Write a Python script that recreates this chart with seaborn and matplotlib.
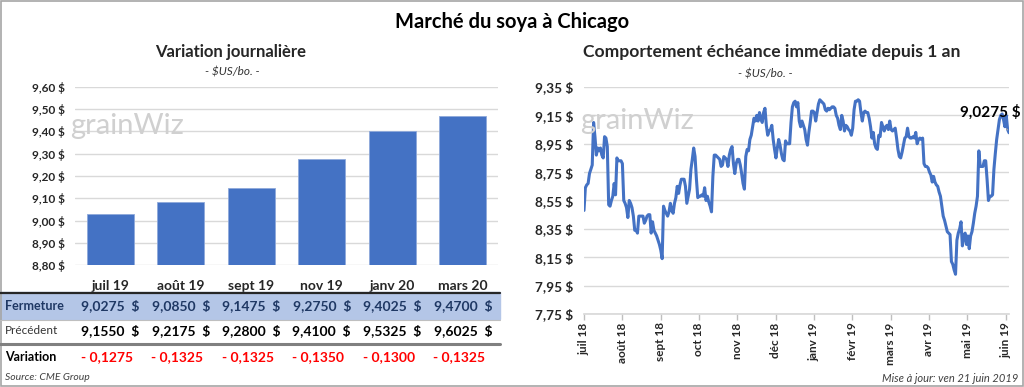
import numpy as np
import pandas as pd
import matplotlib
matplotlib.use("Agg")
import matplotlib.pyplot as plt
import seaborn as sns
from matplotlib.transforms import blended_transform_factory
from matplotlib.patches import Rectangle
from matplotlib.lines import Line2D

# ---------------- data ----------------
contracts = ["juil 19", "août 19", "sept 19", "nov 19", "janv 20", "mars 20"]
fermeture = [9.0275, 9.0850, 9.1475, 9.2750, 9.4025, 9.4700]
precedent = [9.1550, 9.2175, 9.2800, 9.4100, 9.5325, 9.6025]
variation = [-0.1275, -0.1325, -0.1325, -0.1350, -0.1300, -0.1325]

month_labels = ["juil 18", "août 18", "sept 18", "oct 18", "nov 18", "déc 18",
                "janv 19", "févr 19", "mars 19", "avr 19", "mai 19", "juin 19"]
nearby_prices = [
    8.48, 8.64, 8.66, 8.67, 8.74, 8.77, 8.80, 9.10, 9.00, 8.87, 8.92, 8.90, 8.92, 8.87, 8.85,
    9.00, 8.99, 8.93, 8.52, 8.51, 8.55, 8.58, 8.67, 8.59, 8.85, 8.83, 8.83, 8.83, 8.81, 8.55,
    8.53, 8.50, 8.43, 8.55, 8.53, 8.50, 8.44, 8.34, 8.34, 8.32, 8.44, 8.44, 8.44, 8.44, 8.39,
    8.41, 8.44, 8.45, 8.45, 8.32, 8.40, 8.34, 8.32, 8.30, 8.27, 8.24, 8.20, 8.14,
    8.51, 8.48, 8.46, 8.44, 8.47, 8.53, 8.48, 8.46, 8.53, 8.57, 8.65, 8.60, 8.66, 8.70, 8.70,
    8.70, 8.65, 8.53, 8.58, 8.63, 8.77, 8.84, 8.92, 8.86, 8.70, 8.57, 8.58, 8.58, 8.59, 8.58,
    8.64, 8.55, 8.58, 8.54, 8.51, 8.47,
    8.72, 8.87, 8.87, 8.86, 8.85, 8.84, 8.79, 8.80, 8.86, 8.85, 8.84, 8.79, 8.87, 8.91, 8.93,
    8.81, 8.74, 8.81, 8.84, 8.84, 8.80, 8.74, 8.67, 8.63,
    8.86, 8.91, 8.90, 8.98, 9.01, 9.07, 9.13, 9.11, 9.15, 9.11, 9.17, 9.13, 9.10, 9.17, 9.20,
    9.08, 9.01, 9.04, 9.05, 9.08, 8.98, 8.91, 8.85, 8.92, 8.98, 8.94, 8.88, 8.84, 8.83, 8.97,
    8.95, 8.95, 8.95,
    9.10, 9.21, 9.24, 9.25, 9.21, 9.24, 9.11, 9.07, 9.11, 9.08, 9.05, 8.98, 8.94, 9.03, 9.10,
    9.18, 9.18, 9.17, 9.11, 9.17, 9.23, 9.26, 9.25, 9.24, 9.23, 9.19, 9.18, 9.20, 9.19, 9.20,
    9.21, 9.21, 9.20, 9.15, 9.13, 9.08, 9.05, 9.15, 9.11, 9.04, 9.08, 9.07, 9.05, 9.04, 9.01,
    9.06,
    9.19, 9.25, 9.25, 9.26, 9.25, 9.17, 9.11, 9.17, 9.18, 9.17, 9.17, 9.13, 9.07, 8.99, 9.03,
    8.95, 8.92, 8.91, 9.01, 9.00, 9.10, 9.07, 9.04, 9.07, 9.08, 9.05, 9.11, 9.05, 9.04, 9.05,
    9.06, 8.99, 8.91, 8.86, 8.85, 8.89, 8.94, 8.99, 9.00, 9.06, 9.00, 8.99, 8.99, 9.00, 8.99,
    9.03, 8.95, 8.98, 8.99, 8.98, 8.99,
    8.81, 8.79, 8.79, 8.78, 8.75, 8.73, 8.68, 8.72, 8.68, 8.66, 8.65, 8.61, 8.58, 8.51, 8.44,
    8.41, 8.37, 8.33, 8.32, 8.31, 8.12, 8.10, 8.06, 8.03, 8.27, 8.32, 8.35, 8.40, 8.23, 8.30,
    8.32, 8.24, 8.30, 8.21, 8.30, 8.33, 8.39, 8.46, 8.51, 8.58, 8.90, 8.79, 8.79, 8.79, 8.83,
    8.83, 8.70, 8.55, 8.58, 8.58, 8.59, 8.77, 8.88, 8.98, 9.05, 9.12, 9.15, 9.16, 9.12, 9.07,
    9.15, 9.05, 9.0275,
]
left_yticks = [8.80, 8.90, 9.00, 9.10, 9.20, 9.30, 9.40, 9.50, 9.60]
right_yticks = [7.75, 7.95, 8.15, 8.35, 8.55, 8.75, 8.95, 9.15, 9.35]

# ---------------- style ----------------
sns.set_theme(style="white")
FONT = ["Lato", "DejaVu Sans"]
plt.rcParams["font.family"] = FONT

W, H = 1024, 387
fig = plt.figure(figsize=(W / 100, H / 100), dpi=100)
BLUE = "#4472C4"
GRID = "#D9D9D9"

def fx(px):
    return px / W

def fy(py):
    return 1 - py / H

def money(v, nd):
    return f"{v:.{nd}f}".replace(".", ",")

# ---------------- titles ----------------
fig.text(fx(512), fy(22), "Marché du soya à Chicago", ha="center", va="center",
         fontsize=14.5, fontweight="bold", color="black")
fig.text(fx(231), fy(52), "Variation journalière", ha="center", va="center",
         fontsize=12, fontweight="bold")
fig.text(fx(232), fy(72), "- $US/bo. -", ha="center", va="center",
         fontsize=8.5, style="italic", color="#333333")
fig.text(fx(772), fy(52), "Comportement échéance immédiate depuis 1 an", ha="center",
         va="center", fontsize=12.6, fontweight="bold")
fig.text(fx(765), fy(74), "- $US/bo. -", ha="center", va="center",
         fontsize=8.5, style="italic", color="#333333")

# ---------------- left bar chart ----------------
axL = fig.add_axes([fx(75), fy(265), fx(498) - fx(75), fy(87) - fy(265)])
dfL = pd.DataFrame({"contract": contracts, "close": fermeture})
sns.barplot(data=dfL, x="contract", y="close", color=BLUE, width=0.66, ax=axL,
            saturation=1, edgecolor="#8EA9DB", linewidth=0.6, zorder=3)
axL.set_ylim(8.80, 9.60)
axL.set_yticks(left_yticks)
axL.set_yticklabels([money(v, 2) + " $" for v in left_yticks], fontsize=8.5,
                    fontweight="bold")
axL.grid(axis="y", color=GRID, linewidth=1, zorder=0)
axL.set_axisbelow(True)
for s in axL.spines.values():
    s.set_visible(False)
axL.tick_params(axis="y", length=0, pad=7)
axL.tick_params(axis="x", length=0, pad=10.5)
axL.set_xticks(range(len(contracts)))
axL.set_xticklabels(contracts, fontsize=10, fontweight="bold")
axL.set_xlabel("")
axL.set_ylabel("")
axL.patch.set_alpha(0)

# watermark
fig.text(fx(70), fy(126), "grainWiz", ha="left", va="center", fontsize=21,
         color="#D0D0D0", zorder=0)

# ---------------- table under left chart ----------------
tr = blended_transform_factory(axL.transData, fig.transFigure)
fig.patches.append(Rectangle((fx(0), fy(319)), fx(500), fy(292) - fy(319),
                             transform=fig.transFigure, color="#B4C6E7", zorder=0))
fig.lines.append(Line2D([fx(0), fx(500)], [fy(292.5)] * 2, transform=fig.transFigure,
                        color="#262626", linewidth=1.6))
fig.lines.append(Line2D([fx(0), fx(500)], [fy(319.5)] * 2, transform=fig.transFigure,
                        color="#BFBFBF", linewidth=0.8))
fig.lines.append(Line2D([fx(0), fx(500)], [fy(343.5)] * 2, transform=fig.transFigure,
                        color="#808080", linewidth=2.2))

fig.text(fx(5), fy(306), "Fermeture", ha="left", va="center", fontsize=9,
         fontweight="bold", color="#1F3864")
fig.text(fx(5), fy(331), "Précédent", ha="left", va="center", fontsize=8.5,
         color="#333333")
fig.text(fx(5), fy(357), "Variation", ha="left", va="center", fontsize=9,
         fontweight="bold", color="black")
for i in range(len(contracts)):
    fig.text(i, fy(306), money(fermeture[i], 4) + "  $", transform=tr, ha="center",
             va="center", fontsize=10, fontweight="bold", color="#1F3864")
    fig.text(i, fy(331), money(precedent[i], 4) + "  $", transform=tr, ha="center",
             va="center", fontsize=10, fontweight="bold", color="black")
    fig.text(i - 0.05, fy(357), "- " + money(abs(variation[i]), 4), transform=tr,
             ha="center", va="center", fontsize=10, fontweight="bold", color="#FF0000")

fig.text(fx(5), fy(378), "Source: CME Group", ha="left", va="center", fontsize=7.5,
         style="italic", color="#404040")
fig.text(fx(1018), fy(378), "Mise à jour: ven 21 juin 2019", ha="right", va="center",
         fontsize=8, style="italic", color="#404040")

# ---------------- right line chart ----------------
axR = fig.add_axes([fx(584), fy(314), fx(1009) - fx(584), fy(87) - fy(314)])
n = len(nearby_prices)
dfR = pd.DataFrame({"t": np.arange(n), "price": nearby_prices})
sns.lineplot(data=dfR, x="t", y="price", color=BLUE, linewidth=2.2, ax=axR, zorder=3)
axR.set_xlim(0, n - 1)
axR.set_ylim(7.75, 9.35)
axR.set_yticks(right_yticks)
axR.set_yticklabels([money(v, 2) + " $" for v in right_yticks], fontsize=9.8,
                    fontweight="bold")
step = (n - 1) * 114.7 / 1272
axR.set_xticks([k * step for k in range(len(month_labels))])
axR.set_xticklabels(month_labels, rotation=90, fontsize=8.5, fontweight="bold")
axR.grid(axis="y", color=GRID, linewidth=1, zorder=0)
for name, s in axR.spines.items():
    s.set_visible(name == "bottom")
axR.spines["bottom"].set_color(GRID)
axR.tick_params(axis="y", length=0, pad=8)
axR.tick_params(axis="x", length=4, color="#BFBFBF", width=1, pad=2, bottom=True)
axR.set_xlabel("")
axR.set_ylabel("")
axR.patch.set_alpha(0)

fig.text(fx(580), fy(121), "grainWiz", ha="left", va="center", fontsize=21,
         color="#D0D0D0", zorder=0)

# last value label
axR.annotate(money(nearby_prices[-1], 4) + " $", xy=(n - 2, nearby_prices[-1] + 0.02),
             xytext=(fx(990), fy(112)), textcoords="figure fraction", ha="center",
             va="center", fontsize=11, fontweight="bold", color="black",
             arrowprops=dict(arrowstyle="-", color="#A6A6A6", linewidth=0.8,
                             shrinkA=6, shrinkB=0))

# figure border
fig.patches.append(Rectangle((0.001, 0.002), 0.998, 0.996, transform=fig.transFigure,
                             fill=False, edgecolor="#A6A6A6", linewidth=1.2))

fig.savefig("out.png", dpi=100)
